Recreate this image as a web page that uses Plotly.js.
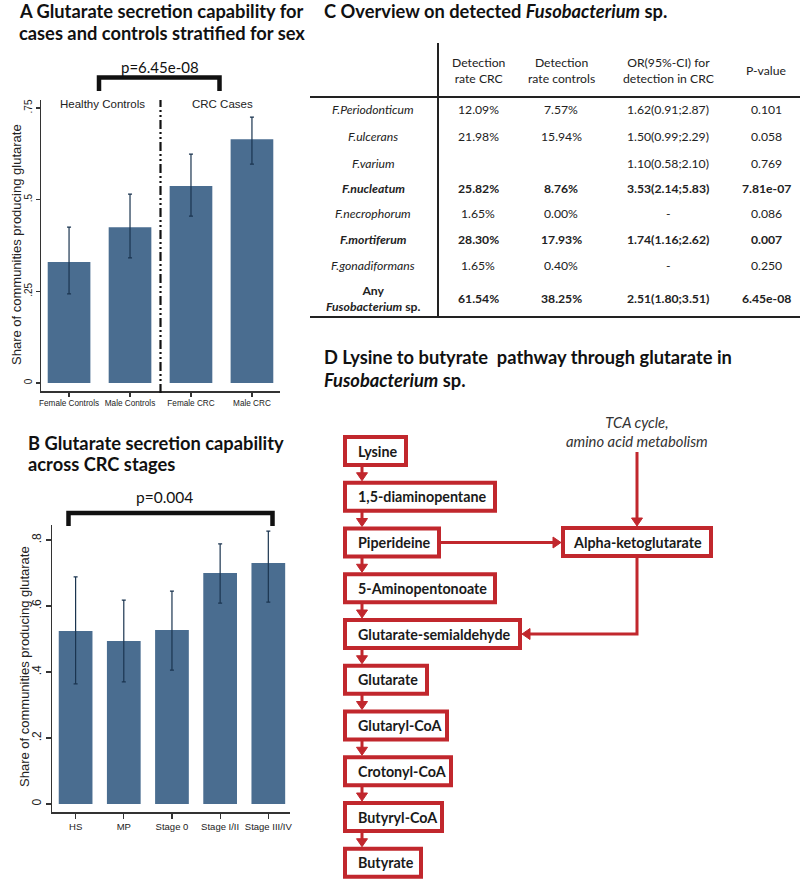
<!DOCTYPE html>
<html><head><meta charset="utf-8">
<script src="https://cdn.plot.ly/plotly-3.0.1.min.js"></script>
<style>html,body{margin:0;padding:0;background:#fff}#chart{width:800px;height:879px}</style>
</head><body><div id="chart"></div>
<script>
// ---------- Panel A data ----------
const sexGroups = ['Female Controls', 'Male Controls', 'Female CRC', 'Male CRC'];
const sexShare = [0.330, 0.425, 0.537, 0.665];
const sexUpper = [0.425, 0.515, 0.624, 0.725];
const sexLower = [0.243, 0.341, 0.455, 0.597];
const sexYTicks = [0, 0.25, 0.5, 0.75];
const sexYTickText = ['0', '.25', '.5', '.75'];
const sexGroupLabels = ['Healthy Controls', 'CRC Cases'];
const sexPValue = 'p=6.45e-08';

// ---------- Panel B data ----------
const stageGroups = ['HS', 'MP', 'Stage 0', 'Stage I/II', 'Stage III/IV'];
const stageShare = [0.524, 0.494, 0.527, 0.700, 0.730];
const stageUpper = [0.688, 0.618, 0.645, 0.788, 0.827];
const stageLower = [0.364, 0.370, 0.406, 0.609, 0.612];
const stageYTicks = [0, 0.2, 0.4, 0.6, 0.8];
const stageYTickText = ['0', '.2', '.4', '.6', '.8'];
const stagePValue = 'p=0.004';

// ---------- Panel C table ----------
const tableHeaders = ['Detection<br>rate CRC', 'Detection<br>rate controls', 'OR(95%-CI) for<br>detection in CRC', 'P-value'];
const speciesNames = ['<i>F.Periodonticum</i>', '<i>F.ulcerans</i>', '<i>F.varium</i>', '<i>F.nucleatum</i>', '<i>F.necrophorum</i>', '<i>F.mortiferum</i>', '<i>F.gonadiformans</i>', 'Any<br><i>Fusobacterium</i> sp.'];
const detectionCRC = ['12.09%', '21.98%', '', '25.82%', '1.65%', '28.30%', '1.65%', '61.54%'];
const detectionControls = ['7.57%', '15.94%', '', '8.76%', '0.00%', '17.93%', '0.40%', '38.25%'];
const oddsRatio = ['1.62(0.91;2.87)', '1.50(0.99;2.29)', '1.10(0.58;2.10)', '3.53(2.14;5.83)', '-', '1.74(1.16;2.62)', '-', '2.51(1.80;3.51)'];
const pValues = ['0.101', '0.058', '0.769', '7.81e-07', '0.086', '0.007', '0.250', '6.45e-08'];
const significant = [false, false, false, true, false, true, false, true];

// ---------- Panel D pathway ----------
const pathwaySteps = ['Lysine', '1,5-diaminopentane', 'Piperideine', '5-Aminopentonoate', 'Glutarate-semialdehyde', 'Glutarate', 'Glutaryl-CoA', 'Crotonyl-CoA', 'Butyryl-CoA', 'Butyrate'];
const sideNode = 'Alpha-ketoglutarate';
const sideSource = 'TCA cycle,<br>amino acid metabolism';
const sideFrom = 2;   // Piperideine feeds alpha-ketoglutarate
const sideTo = 4;     // alpha-ketoglutarate feeds glutarate-semialdehyde

// ---------- layout geometry (pixels) ----------
const W = 800, H = 879;
const X = px => px / W;
const Y = py => 1 - py / H;
const barColor = '#4a6d90';
const errColor = '#1b3550';
const red = '#c1272d';
const ink = '#1a1a1a';
const axisFont = 'Liberation Sans, Arial, sans-serif';
const textFont = 'Lato, Open Sans, sans-serif';

const boxLeft = 343, boxTop0 = 435, boxStep = 45.75, boxH = 32, boxBorder = 4;
const boxWidths = [65, 154, 98, 154, 179, 86, 106, 110, 101, 80];
const sideBox = {left: 561, width: 152, top: 526};
const sideSourceY = 431, sideArrowTop = 452;
const tableColX = [373, 478, 561, 668, 766];
const tableRowY = [110, 136, 163, 188, 213, 239, 265, 298];

const shapes = [];
const annotations = [];

function ann(px, py, text, opts) {
  annotations.push(Object.assign({xref: 'paper', yref: 'paper', x: X(px), y: Y(py), text: text,
    showarrow: false, xanchor: 'center', yanchor: 'middle',
    font: {family: textFont, size: 12, color: ink}}, opts || {}));
}
function line(x0, y0, x1, y1, color, width, dash) {
  shapes.push({type: 'line', xref: 'paper', yref: 'paper', x0: X(x0), y0: Y(y0), x1: X(x1), y1: Y(y1),
    line: {color: color, width: width, dash: dash || 'solid'}});
}
function poly(pts, color) {
  const d = pts.map((p, i) => (i ? 'L' : 'M') + X(p[0]) + ',' + Y(p[1])).join(' ') + ' Z';
  shapes.push({type: 'path', xref: 'paper', yref: 'paper', path: d, fillcolor: color, line: {color: color, width: 1}});
}
function pathLine(pts, color, width) {
  const d = pts.map((p, i) => (i ? 'L' : 'M') + X(p[0]) + ',' + Y(p[1])).join(' ');
  shapes.push({type: 'path', xref: 'paper', yref: 'paper', path: d, line: {color: color, width: width}});
}
function arrowHead(x, y, dir, color) {
  const L = 8, Hw = 5.5;
  if (dir === 'down') poly([[x - Hw, y - L], [x + Hw, y - L], [x, y]], color);
  if (dir === 'right') poly([[x - L, y - Hw], [x - L, y + Hw], [x, y]], color);
  if (dir === 'left') poly([[x + L, y - Hw], [x + L, y + Hw], [x, y]], color);
}
function box(left, top, width, height) {
  const b = boxBorder / 2;
  shapes.push({type: 'rect', xref: 'paper', yref: 'paper', x0: X(left + b), x1: X(left + width - b),
    y0: Y(top + b), y1: Y(top + height - b), line: {color: red, width: boxBorder}, fillcolor: 'white'});
}

// ---------- titles ----------
const titleFont = {family: textFont, size: 18.3, color: '#111'};
ann(17, 11, '<b>A Glutarate secretion capability for</b>', {xanchor: 'left', font: titleFont});
ann(17, 33, '<b>cases and controls stratified for sex</b>', {xanchor: 'left', font: titleFont});
ann(26, 443, '<b>B Glutarate secretion capability</b>', {xanchor: 'left', font: titleFont});
ann(26, 464, '<b>across CRC stages</b>', {xanchor: 'left', font: titleFont});
ann(322, 11, '<b>C Overview on detected <i>Fusobacterium</i> sp.</b>', {xanchor: 'left', font: titleFont});
ann(322, 357, '<b>D Lysine to butyrate  pathway through glutarate in</b>', {xanchor: 'left', font: titleFont});
ann(322, 380, '<b><i>Fusobacterium</i> sp.</b>', {xanchor: 'left', font: titleFont});

// ---------- panel A extras ----------
const yTitle = 'Share of communities producing glutarate';
ann(16, 245, yTitle, {textangle: -90, font: {family: axisFont, size: 13, color: '#222'}});
ann(24, 667, yTitle, {textangle: -90, font: {family: axisFont, size: 13, color: '#222'}});
ann(102, 104, sexGroupLabels[0], {font: {family: axisFont, size: 11.5, color: '#222'}});
ann(222, 104, sexGroupLabels[1], {font: {family: axisFont, size: 11.5, color: '#222'}});
pathLine([[99, 91], [99, 77.5], [219.5, 77.5], [219.5, 91]], '#111', 4.5);
ann(160, 67, sexPValue, {font: {family: textFont, size: 15, color: '#111'}});
shapes.push({type: 'line', xref: 'x', yref: 'paper', x0: 1.5, x1: 1.5, y0: Y(393), y1: Y(100),
  line: {color: '#111', width: 2.2, dash: '9px,3px,2px,3px,2px,3px'}});

// ---------- panel B extras ----------
pathLine([[68.5, 526], [68.5, 513], [272.5, 513], [272.5, 526]], '#111', 4.5);
ann(164, 497, stagePValue, {font: {family: textFont, size: 15.5, color: '#111'}});

// ---------- panel C table ----------
line(310, 97, 800, 97, '#222', 2);
line(310, 317, 800, 317, '#222', 2);
line(438, 43, 438, 317, '#222', 2);
const tFont = {family: textFont, size: 12.2, color: '#222'};
tableHeaders.forEach((h, j) => ann(tableColX[j + 1], 70.5, h, {font: tFont}));
speciesNames.forEach((name, i) => {
  const b = s => significant[i] ? '<b>' + s + '</b>' : s;
  const cells = [name, detectionCRC[i], detectionControls[i], oddsRatio[i], pValues[i]];
  cells.forEach((c, j) => { if (c !== '') ann(tableColX[j], tableRowY[i], b(c), {font: tFont}); });
});

// ---------- panel D pathway ----------
const boxTop = i => boxTop0 + i * boxStep;
const arrowX = 362;
pathwaySteps.forEach((s, i) => {
  box(boxLeft, boxTop(i), boxWidths[i], boxH);
  ann(boxLeft + 13, boxTop(i) + boxH / 2, '<b>' + s + '</b>', {xanchor: 'left', font: {family: textFont, size: 14.3, color: ink}});
  if (i < pathwaySteps.length - 1) {
    line(arrowX, boxTop(i) + boxH - 1, arrowX, boxTop(i + 1) - 6, red, 3);
    arrowHead(arrowX, boxTop(i + 1), 'down', red);
  }
});
// side node
const sideMidY = sideBox.top + boxH / 2;
const sideCx = sideBox.left + sideBox.width / 2;
box(sideBox.left, sideBox.top, sideBox.width, boxH);
ann(sideCx, sideMidY, '<b>' + sideNode + '</b>', {font: {family: textFont, size: 14.3, color: ink}});
ann(sideCx, sideSourceY, '<i>' + sideSource + '</i>', {font: {family: textFont, size: 14.8, color: '#333'}});
// source -> side node
line(sideCx, sideArrowTop, sideCx, sideBox.top - 6, red, 3);
arrowHead(sideCx, sideBox.top, 'down', red);
// piperideine -> side node
const fromY = boxTop(sideFrom) + boxH / 2;
line(boxLeft + boxWidths[sideFrom], fromY, sideBox.left - 6, fromY, red, 3);
arrowHead(sideBox.left, fromY, 'right', red);
// side node -> glutarate-semialdehyde
const toY = boxTop(sideTo) + boxH / 2;
pathLine([[sideCx, sideBox.top + boxH], [sideCx, toY], [boxLeft + boxWidths[sideTo] + 6, toY]], red, 3);
arrowHead(boxLeft + boxWidths[sideTo], toY, 'left', red);

// ---------- traces ----------
function errTrace(cats, vals, up, lo, xa, ya) {
  return {type: 'bar', x: cats, y: vals, xaxis: xa, yaxis: ya, marker: {color: barColor, line: {width: 0}},
    error_y: {type: 'data', symmetric: false, array: up.map((u, i) => u - vals[i]), arrayminus: vals.map((v, i) => v - lo[i]),
      color: errColor, thickness: 1.2, width: 2}, hoverinfo: 'skip', showlegend: false};
}
const data = [
  errTrace(sexGroups, sexShare, sexUpper, sexLower, 'x', 'y'),
  errTrace(stageGroups, stageShare, stageUpper, stageLower, 'x2', 'y2')
];

const axBase = {showline: true, linecolor: '#333', linewidth: 1.5, ticks: 'outside', tickcolor: '#333', tickwidth: 1.2,
  showgrid: false, zeroline: false, fixedrange: true};
const layout = {
  width: W, height: H, margin: {l: 0, r: 0, t: 0, b: 0},
  paper_bgcolor: 'white', plot_bgcolor: 'rgba(0,0,0,0)', showlegend: false, bargap: 0.3,
  xaxis: Object.assign({}, axBase, {domain: [X(41), X(280)], anchor: 'y', type: 'category', range: [-0.46, 3.46], ticklen: 4,
    tickfont: {family: axisFont, size: 8.2, color: '#222'}}),
  yaxis: Object.assign({}, axBase, {domain: [Y(391), Y(100)], anchor: 'x', range: [-0.0218, 0.7718], ticklen: 4,
    tickvals: sexYTicks, ticktext: sexYTickText, tickangle: -90, tickfont: {family: axisFont, size: 10, color: '#222'}}),
  xaxis2: Object.assign({}, axBase, {domain: [X(52), X(290)], anchor: 'y2', type: 'category', range: [-0.49, 4.45], ticklen: 5,
    tickfont: {family: axisFont, size: 9.5, color: '#222'}}),
  yaxis2: Object.assign({}, axBase, {domain: [Y(812), Y(525)], anchor: 'x2', range: [-0.0242, 0.8455], ticklen: 5,
    tickvals: stageYTicks, ticktext: stageYTickText, tickangle: -90, tickfont: {family: axisFont, size: 12, color: '#222'}}),
  shapes: shapes,
  annotations: annotations
};
Plotly.newPlot('chart', data, layout, {staticPlot: true, displayModeBar: false});
</script>
</body></html>
